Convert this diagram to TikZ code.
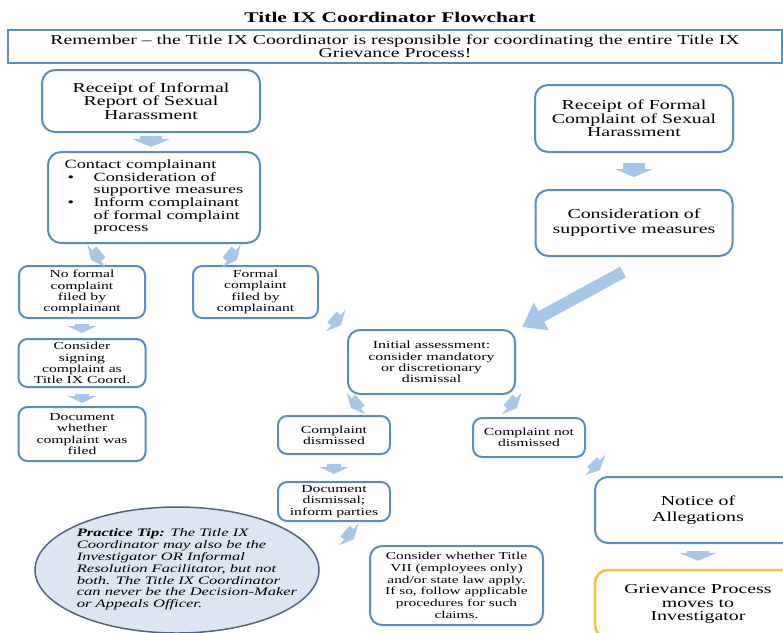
\documentclass[tikz,border=0pt]{standalone}
\usepackage{fontspec}
\setmainfont{Liberation Serif}[FakeStretch=1.45]
\usetikzlibrary{arrows.meta,calc,shapes.geometric}

\definecolor{boxblue}{RGB}{88,140,198}
\definecolor{arrowblue}{RGB}{166,199,232}
\definecolor{tipfill}{RGB}{220,230,242}
\definecolor{tipdraw}{RGB}{80,100,130}
\definecolor{griefyellow}{RGB}{244,192,64}

\begin{document}
\begin{tikzpicture}[x=1pt, y=-1pt,
    bigbox/.style={draw=boxblue, line width=2pt, rounded corners=13pt, align=center, fill=white, inner sep=1pt,
        font=\fontsize{13.7}{13.6}\selectfont},
    smallbox/.style={draw=boxblue, line width=2pt, rounded corners=9pt, align=center, fill=white, inner sep=1pt,
        font=\fontsize{10.8}{11.3}\selectfont},
    tip/.style={ellipse, draw=tipdraw, line width=1.5pt, fill=tipfill, inner xsep=-30pt, inner ysep=0pt,
        font=\itshape\fontsize{11.4}{11.8}\selectfont},
    flow/.style={draw=arrowblue, line width=14pt, -{Triangle[width=29pt,length=7pt]}},
    bigflow/.style={draw=arrowblue, line width=22pt, -{Triangle[width=38pt,length=8pt]}},
    longflow/.style={draw=arrowblue, line width=12pt, -{Triangle[width=30pt,length=22pt]}}
]
\useasboundingbox (0,0) rectangle (783,632);
\clip (0,0) rectangle (783,632);

\node[font=\bfseries\fontsize{14.8}{15}\selectfont] (title) at (390,17) {Title IX Coordinator Flowchart};
\node[draw=boxblue, line width=2.5pt, minimum width=774pt, minimum height=33pt, align=center, inner sep=0pt,
    font=\fontsize{13.6}{12.5}\selectfont] (remember) at (395,46.5)
    {Remember -- the Title IX Coordinator is responsible for coordinating the entire Title IX\\Grievance Process!};

% informal report side
\node[bigbox, minimum width=218pt, minimum height=62pt] (informal) at (151,101) {Receipt of Informal\\Report of Sexual\\Harassment};
\node[bigbox, minimum width=212pt, minimum height=91pt, font=\fontsize{12.6}{12.6}\selectfont] (contact) at (154,197.5) {%
    \begin{tabular}{@{}p{29pt}@{}l@{}}
    \multicolumn{2}{@{}l@{}}{Contact complainant}\\
    \hspace*{3pt}\textbullet & Consideration of\\
     & supportive measures\\
    \hspace*{3pt}\textbullet & Inform complainant\\
     & of formal complaint\\
     & process
    \end{tabular}};
\node[smallbox, minimum width=126pt, minimum height=52pt] (nofiled) at (82,292) {No formal\\complaint\\filed by\\complainant};
\node[smallbox, minimum width=125pt, minimum height=52pt] (filed) at (255.5,292) {Formal\\complaint\\filed by\\complainant};
\node[smallbox, minimum width=127pt, minimum height=48pt] (signing) at (82,363) {Consider\\signing\\complaint as\\Title IX Coord.};
\node[smallbox, minimum width=127pt, minimum height=54pt] (docfiled) at (82,434) {Document\\whether\\complaint was\\filed};

% formal complaint side
\node[bigbox, minimum width=198pt, minimum height=67pt] (formal) at (634,118.5) {Receipt of Formal\\Complaint of Sexual\\Harassment};
\node[bigbox, minimum width=197pt, minimum height=66pt, font=\fontsize{13.7}{15}\selectfont] (consider) at (634,223) {Consideration of\\supportive measures};
\node[smallbox, minimum width=167pt, minimum height=64pt, rounded corners=12pt, font=\fontsize{11}{11.3}\selectfont] (initial) at (431.5,362) {Initial assessment:\\consider mandatory\\or discretionary\\dismissal};
\node[smallbox, minimum width=112pt, minimum height=38pt] (dismissed) at (334,435) {Complaint\\dismissed};
\node[smallbox, minimum width=112pt, minimum height=39pt] (notdism) at (529,437.5) {Complaint not\\dismissed};
\node[smallbox, minimum width=112pt, minimum height=39pt] (docdis) at (334,501.5) {Document\\dismissal;\\inform parties};
\node[smallbox, minimum width=173pt, minimum height=79pt, rounded corners=12pt, font=\fontsize{10.6}{11.7}\selectfont] (titlevii) at (456.5,585.5)
    {Consider whether Title\\VII (employees only)\\and/or state law apply.\\If so, follow applicable\\procedures for such\\claims.};
\node[bigbox, minimum width=206pt, minimum height=66pt, font=\fontsize{13.7}{16}\selectfont] (notice) at (698,510) {Notice of\\Allegations};
\node[bigbox, draw=griefyellow, line width=2.5pt, minimum width=206pt, minimum height=68pt] (grievance) at (698,604) {Grievance Process\\moves to\\Investigator};

% practice tip
\node[tip, minimum width=284pt, minimum height=126pt] (practice) at (177,570) {%
    \begin{tabular}{@{\hspace{20pt}}l@{}}
    \textbf{Practice Tip:} The Title IX\\
    Coordinator may also be the\\
    Investigator OR Informal\\
    Resolution Facilitator, but not\\
    both. The Title IX Coordinator\\
    can never be the Decision-Maker\\
    or Appeals Officer.
    \end{tabular}};

\draw[bigflow, shorten <=3pt, shorten >=4pt] (informal.south) -- (informal.south |- contact.north);
\draw[bigflow, shorten <=10pt, shorten >=12pt] (formal) -- (consider);
\draw[flow] ($(contact.south)+(-53,8)$) -- ($(nofiled.north)+(9,-5)$);
\draw[flow] ($(contact.south)+(73,8)$) -- ($(filed.north)+(-18.5,-5)$);
\draw[flow, shorten <=5pt, shorten >=5pt] (nofiled) -- (signing);
\draw[flow, shorten <=6pt, shorten >=3pt] (signing) -- (docfiled);
\draw[flow] ($(filed.south east)+(13,-2)$) -- ($(initial.north west)+(-6,-4)$);
\draw[longflow] ($(consider.south)+(-11,15)$) -- ($(initial.north east)+(6,-2)$);
\draw[flow] ($(initial.south west)+(13,5)$) -- ($(dismissed.north)+(17,-7)$);
\draw[flow] ($(initial.south east)+(-8,5)$) -- ($(notdism.north)+(-12,-9)$);
\draw[flow, shorten <=9pt, shorten >=7pt] (dismissed) -- (docdis);
\draw[flow] ($(docdis.south)+(11,9)$) -- ($(titlevii.north west)+(-15,-6)$);
\draw[flow] ($(notdism.south east)+(6,4)$) -- ($(notice.north west)+(6,-6)$);
\draw[bigflow, shorten <=7pt, shorten >=8pt] (notice) -- (grievance);
\end{tikzpicture}
\end{document}
